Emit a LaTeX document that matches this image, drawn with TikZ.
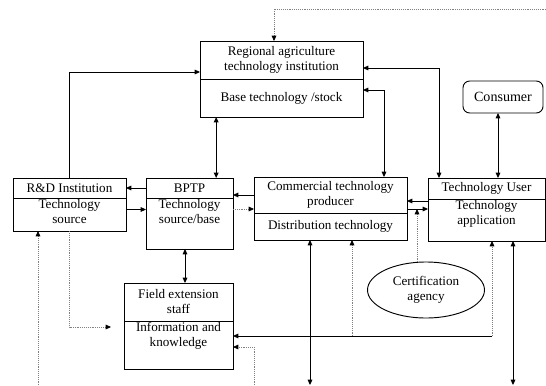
\documentclass[tikz,border=0pt]{standalone}
\usepackage{fontspec}
\setmainfont{Liberation Serif}
\usetikzlibrary{arrows.meta,shapes.geometric}

\begin{document}
\begin{tikzpicture}[mybox/.style={rectangle,draw=black,line width=.8pt,inner sep=0cm,outer sep=0cm,align=center,font=\fontsize{11.2}{12.8}\selectfont},
		mytext/.style={align=center,inner sep=.04cm,font=\fontsize{11.2}{12.8}\selectfont},
		myarrow/.style={draw=black,line width=.8pt,-{Triangle[length=.16cm,width=.14cm]}},
		mydouble/.style={draw=black,line width=.8pt,{Triangle[length=.16cm,width=.14cm]}-{Triangle[length=.16cm,width=.14cm]}},
		mydotted/.style={draw=gray,densely dotted,line width=.6pt,-{Triangle[length=.16cm,width=.14cm,color=black]}}]
		\useasboundingbox (0,0) rectangle (16.38,-11.55);
		\node(regt)[mybox,minimum width=4.89cm,minimum height=1.14cm] at (8.445,-1.8) {Regional agriculture\\technology institution};
		\node(regb)[mybox,minimum width=4.89cm,minimum height=1.14cm,anchor=north] at (regt.south) {Base technology /stock};
		\node(cons)[mybox,rounded corners=.2cm,minimum width=2.4cm,minimum height=.96cm,font=\fontsize{12}{14}\selectfont] at (15.09,-2.91) {Consumer};
		\node(rdt)[mybox,minimum width=3.39cm,minimum height=.6cm] at (2.085,-5.64) {R\&D Institution};
		\node(rdb)[mybox,minimum width=3.39cm,minimum height=.99cm,anchor=north] at (rdt.south) {};
		\node(rdtxt)[mytext,anchor=north] at (rdb.north) {Technology\\source};
		\node(bptpt)[mybox,minimum width=2.61cm,minimum height=.6cm] at (5.685,-5.64) {BPTP};
		\node(bptpb)[mybox,minimum width=2.61cm,minimum height=1.53cm,anchor=north] at (bptpt.south) {};
		\node(bptptxt)[mytext,anchor=north] at (bptpb.north) {Technology\\source/base};
		\node(comt)[mybox,minimum width=4.59cm,minimum height=1.08cm] at (9.915,-5.85) {Commercial technology\\producer};
		\node(comb)[mybox,minimum width=4.59cm,minimum height=.81cm,anchor=north] at (comt.south) {Distribution technology};
		\node(usert)[mybox,minimum width=3.51cm,minimum height=.63cm] at (14.595,-5.655) {Technology User};
		\node(userb)[mybox,minimum width=3.51cm,minimum height=1.26cm,anchor=north] at (usert.south) {};
		\node(usertxt)[mytext,anchor=north] at (userb.north) {Technology\\application};
		\node(fieldt)[mybox,minimum width=3.27cm,minimum height=1.14cm] at (5.355,-9.06) {Field extension\\staff};
		\node(fieldb)[mybox,minimum width=3.27cm,minimum height=1.44cm,anchor=north] at (fieldt.south) {};
		\node(fieldtxt)[mytext,anchor=north] at (fieldb.north) {Information and\\knowledge};
		\node(cert)[mybox,ellipse,minimum width=3.51cm,minimum height=1.68cm] at (12.78,-8.7) {Certification\\agency};
		% loose ends at the picture border
		\coordinate(dtopr) at (16.38,-.27);
		\coordinate(dtopl) at (8.22,-.27);
		\coordinate(bot) at (0,-11.55);
		\coordinate(fbot) at (7.62,-11.55);
		\coordinate(rdin) at (1.14,-11.55);
		\coordinate(infor) at (14.76,-10.08);
		\coordinate(infom) at (10.56,-10.08);
		\coordinate(c2u) at ([yshift=-.42cm]comt.east);
		\draw[mydotted] (dtopr) -- (dtopl) -- (dtopl |- regt.north);
		\draw[myarrow] (rdt.north) |- ([yshift=-.36cm]regt.west);
		\draw[mydouble] ([xshift=.8cm]bptpt.north) -- ([xshift=.8cm]bptpt.north |- regb.south);
		\draw[mydouble] ([yshift=-.24cm]regt.east) -| ([xshift=-1.425cm]usert.north);
		\draw[mydouble] ([yshift=.24cm]regb.east) -| ([xshift=1.605cm]comt.north);
		\draw[mydouble] ([xshift=-.15cm]cons.south) -- ([xshift=-.15cm]cons.south |- usert.north);
		\draw[myarrow] (bptpt.west) -- (rdt.east);
		\draw[myarrow] ([yshift=.15cm]rdb.east) -- ([yshift=.15cm]rdb.east -| bptpb.west);
		\draw[myarrow] (comt.west) -- (comt.west -| bptpt.east);
		\draw[mydotted] ([yshift=-.42cm]comt.west -| bptpb.east) -- ([yshift=-.42cm]comt.west);
		\draw[myarrow] ([yshift=-.06cm]userb.north west) -- ([yshift=-.06cm]userb.north west -| comt.east);
		\draw[myarrow] (c2u) -- (c2u -| userb.west);
		\draw[mydotted] ([xshift=-.27cm]cert.north) -- ([xshift=-.27cm]cert.north |- c2u);
		\draw[mydouble] ([xshift=-.615cm]comb.south) -- ([xshift=-.615cm]comb.south |- bot);
		\draw[mydouble] ([xshift=.795cm]userb.south) -- ([xshift=.795cm]userb.south |- bot);
		\draw[myarrow] (infor) -- (infor -| fieldb.east);
		\draw[mydotted] (infor) -- (infor |- userb.south);
		\draw[mydotted] (infom) -- (infom |- comb.south);
		\draw[mydotted] (fbot) |- ([yshift=-.06cm]fieldb.east);
		\draw[mydouble] ([xshift=-.135cm]bptpb.south) -- ([xshift=-.135cm]bptpb.south |- fieldt.north);
		\draw[mydotted,shorten >=.39cm] (rdb.south) |- ([yshift=.54cm]fieldb.west);
		\draw[mydotted] (rdin) -- (rdin |- rdb.south);
	\end{tikzpicture}
\end{document}
